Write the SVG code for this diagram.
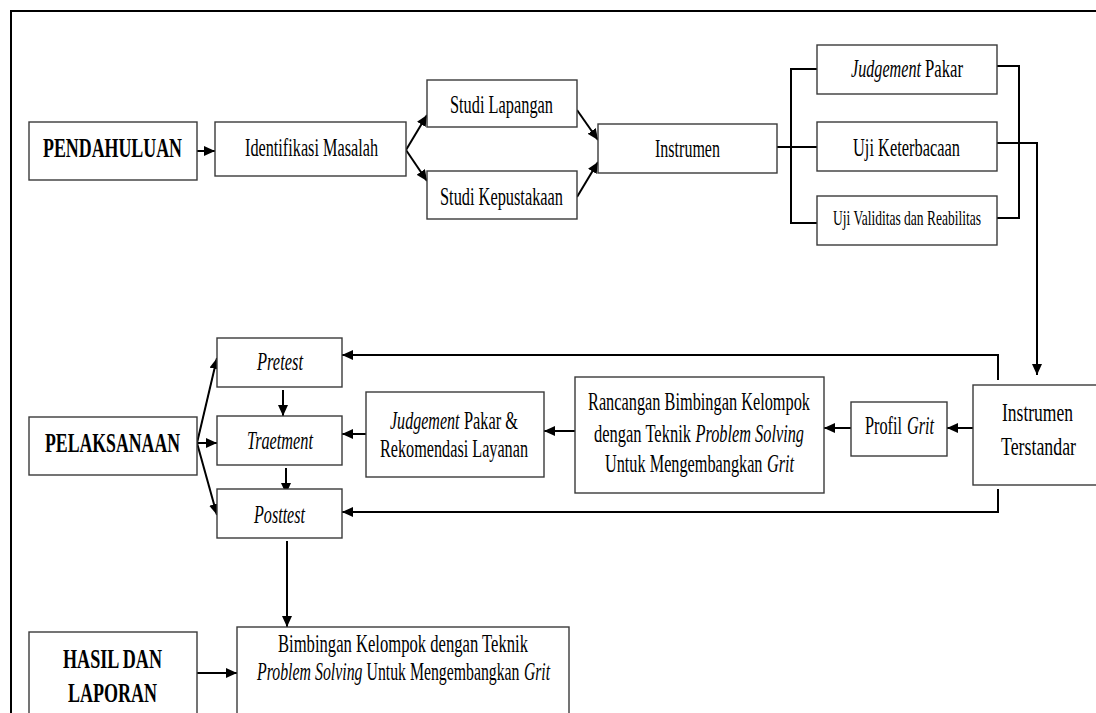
<svg xmlns="http://www.w3.org/2000/svg" width="1096" height="713" viewBox="0 0 1096 713">
<defs>
<style>
.box{fill:#fff;stroke:#3a3a3a;stroke-width:1.4}
.ln{fill:none;stroke:#000;stroke-width:2}
.t{font-family:'Liberation Serif','DejaVu Serif',serif;font-size:26px;fill:#000;text-anchor:middle}
.l{text-anchor:start}
.b{font-weight:bold;font-size:27px}
.s{font-size:21px}
.i{font-style:italic}
</style>
<marker id="ah" markerUnits="userSpaceOnUse" markerWidth="12" markerHeight="10" refX="11" refY="5" orient="auto">
<path d="M0,0 L11,5 L0,10 z" fill="#000"/>
</marker>
</defs>
<rect x="0" y="0" width="1096" height="713" fill="#fff"/>
<path class="ln" d="M11,713 L11,11 L1096,11"/>

<g id="connectors">
<line class="ln" x1="197" y1="151" x2="215" y2="151" marker-end="url(#ah)"/>
<line class="ln" x1="406" y1="150" x2="427" y2="115" marker-end="url(#ah)"/>
<line class="ln" x1="406" y1="150" x2="427" y2="181" marker-end="url(#ah)"/>
<line class="ln" x1="577" y1="110" x2="598" y2="140" marker-end="url(#ah)"/>
<line class="ln" x1="577" y1="197" x2="598" y2="162" marker-end="url(#ah)"/>
<path class="ln" d="M777,147 L817,147 M817,69 L791,69 L791,223 L817,223"/>
<path class="ln" d="M997,66 L1019,66 L1019,218 L997,218"/>
<path class="ln" d="M997,143 L1037,143 L1037,375" marker-end="url(#ah)"/>
<path class="ln" d="M998,380 L998,355 L342,355" marker-end="url(#ah)"/>
<path class="ln" d="M998,489 L998,512 L342,512" marker-end="url(#ah)"/>
<line class="ln" x1="973" y1="428" x2="947" y2="428" marker-end="url(#ah)"/>
<line class="ln" x1="851" y1="428" x2="824" y2="428" marker-end="url(#ah)"/>
<line class="ln" x1="575" y1="431" x2="544" y2="431" marker-end="url(#ah)"/>
<line class="ln" x1="366" y1="434" x2="342" y2="434" marker-end="url(#ah)"/>
<line class="ln" x1="283" y1="390" x2="283" y2="416" marker-end="url(#ah)"/>
<line class="ln" x1="286" y1="468" x2="286" y2="494" marker-end="url(#ah)"/>
<line class="ln" x1="197" y1="443" x2="217" y2="358" marker-end="url(#ah)"/>
<line class="ln" x1="197" y1="443" x2="217" y2="443" marker-end="url(#ah)"/>
<line class="ln" x1="197" y1="443" x2="217" y2="515" marker-end="url(#ah)"/>
<line class="ln" x1="287" y1="541" x2="287" y2="627" marker-end="url(#ah)"/>
<line class="ln" x1="197" y1="673" x2="237" y2="673" marker-end="url(#ah)"/>
</g>

<g font-family="Liberation Serif, serif">
<g id="pendahuluan">
<rect class="box" x="29" y="122" width="168" height="58"/>
<text class="t b" x="112.5" y="157" textLength="139" lengthAdjust="spacingAndGlyphs">PENDAHULUAN</text>
</g>
<g id="identifikasi">
<rect class="box" x="215" y="122" width="191" height="54"/>
<text class="t" x="311.5" y="156" textLength="133" lengthAdjust="spacingAndGlyphs">Identifikasi Masalah</text>
</g>
<g id="studi-lapangan">
<rect class="box" x="427" y="80" width="150" height="47"/>
<text class="t" x="501.5" y="113" textLength="103" lengthAdjust="spacingAndGlyphs">Studi Lapangan</text>
</g>
<g id="studi-kepustakaan">
<rect class="box" x="427" y="171" width="150" height="48"/>
<text class="t" x="501.5" y="205" textLength="123" lengthAdjust="spacingAndGlyphs">Studi Kepustakaan</text>
</g>
<g id="instrumen">
<rect class="box" x="598" y="124" width="179" height="49"/>
<text class="t" x="687.5" y="157" textLength="65" lengthAdjust="spacingAndGlyphs">Instrumen</text>
</g>
<g id="judgement-pakar">
<rect class="box" x="817" y="45" width="180" height="49"/>
<text class="t l i" x="851" y="77" textLength="70" lengthAdjust="spacingAndGlyphs">Judgement</text>
<text class="t l" x="925" y="77" textLength="38" lengthAdjust="spacingAndGlyphs">Pakar</text>
</g>
<g id="uji-keterbacaan">
<rect class="box" x="817" y="122" width="180" height="49"/>
<text class="t" x="906.5" y="156" textLength="107" lengthAdjust="spacingAndGlyphs">Uji Keterbacaan</text>
</g>
<g id="uji-validitas">
<rect class="box" x="817" y="196" width="180" height="49"/>
<text class="t s" x="907" y="225" textLength="148" lengthAdjust="spacingAndGlyphs">Uji Validitas dan Reabilitas</text>
</g>
<g id="instrumen-terstandar">
<rect class="box" x="973" y="385" width="135" height="100"/>
<text class="t" x="1037.5" y="421" textLength="71" lengthAdjust="spacingAndGlyphs">Instrumen</text>
<text class="t" x="1038.5" y="455" textLength="75" lengthAdjust="spacingAndGlyphs">Terstandar</text>
</g>
<g id="profil-grit">
<rect class="box" x="851" y="402" width="96" height="54"/>
<text class="t l" x="865" y="434" textLength="37" lengthAdjust="spacingAndGlyphs">Profil</text>
<text class="t l i" x="907" y="434" textLength="27" lengthAdjust="spacingAndGlyphs">Grit</text>
</g>
<g id="rancangan">
<rect class="box" x="575" y="377" width="249" height="116"/>
<text class="t" x="699" y="410" textLength="222" lengthAdjust="spacingAndGlyphs">Rancangan Bimbingan Kelompok</text>
<text class="t l" x="594" y="442" textLength="97" lengthAdjust="spacingAndGlyphs">dengan Teknik</text>
<text class="t l i" x="695.5" y="442" textLength="108.5" lengthAdjust="spacingAndGlyphs">Problem Solving</text>
<text class="t l" x="605" y="472" textLength="157.5" lengthAdjust="spacingAndGlyphs">Untuk Mengembangkan</text>
<text class="t l i" x="767" y="472" textLength="27" lengthAdjust="spacingAndGlyphs">Grit</text>
</g>
<g id="judgement-rekomendasi">
<rect class="box" x="366" y="392" width="178" height="85"/>
<text class="t l i" x="390" y="429" textLength="69.5" lengthAdjust="spacingAndGlyphs">Judgement</text>
<text class="t l" x="464" y="429" textLength="54" lengthAdjust="spacingAndGlyphs">Pakar &amp;</text>
<text class="t" x="454" y="457" textLength="148" lengthAdjust="spacingAndGlyphs">Rekomendasi Layanan</text>
</g>
<g id="pretest">
<rect class="box" x="217" y="338" width="125" height="49"/>
<text class="t i" x="280" y="370" textLength="46" lengthAdjust="spacingAndGlyphs">Pretest</text>
</g>
<g id="traetment">
<rect class="box" x="217" y="416" width="125" height="49"/>
<text class="t i" x="280" y="449" textLength="66" lengthAdjust="spacingAndGlyphs">Traetment</text>
</g>
<g id="posttest">
<rect class="box" x="217" y="489" width="125" height="49"/>
<text class="t i" x="279.5" y="523" textLength="51" lengthAdjust="spacingAndGlyphs">Posttest</text>
</g>
<g id="pelaksanaan">
<rect class="box" x="29" y="417" width="168" height="58"/>
<text class="t b" x="112.5" y="452" textLength="135" lengthAdjust="spacingAndGlyphs">PELAKSANAAN</text>
</g>
<g id="hasil">
<rect class="box" x="29" y="632" width="168" height="100"/>
<text class="t b" x="112.5" y="668" textLength="99" lengthAdjust="spacingAndGlyphs">HASIL DAN</text>
<text class="t b" x="112.5" y="702" textLength="89" lengthAdjust="spacingAndGlyphs">LAPORAN</text>
</g>
<g id="bimbingan">
<rect class="box" x="237" y="627" width="332" height="100"/>
<text class="t" x="403" y="652" textLength="250" lengthAdjust="spacingAndGlyphs">Bimbingan Kelompok  dengan Teknik</text>
<text class="t l i" x="257" y="680" textLength="105.5" lengthAdjust="spacingAndGlyphs">Problem Solving</text>
<text class="t l" x="366.5" y="680" textLength="153" lengthAdjust="spacingAndGlyphs">Untuk Mengembangkan</text>
<text class="t l i" x="524" y="680" textLength="26" lengthAdjust="spacingAndGlyphs">Grit</text>
</g>
</g>
</svg>
